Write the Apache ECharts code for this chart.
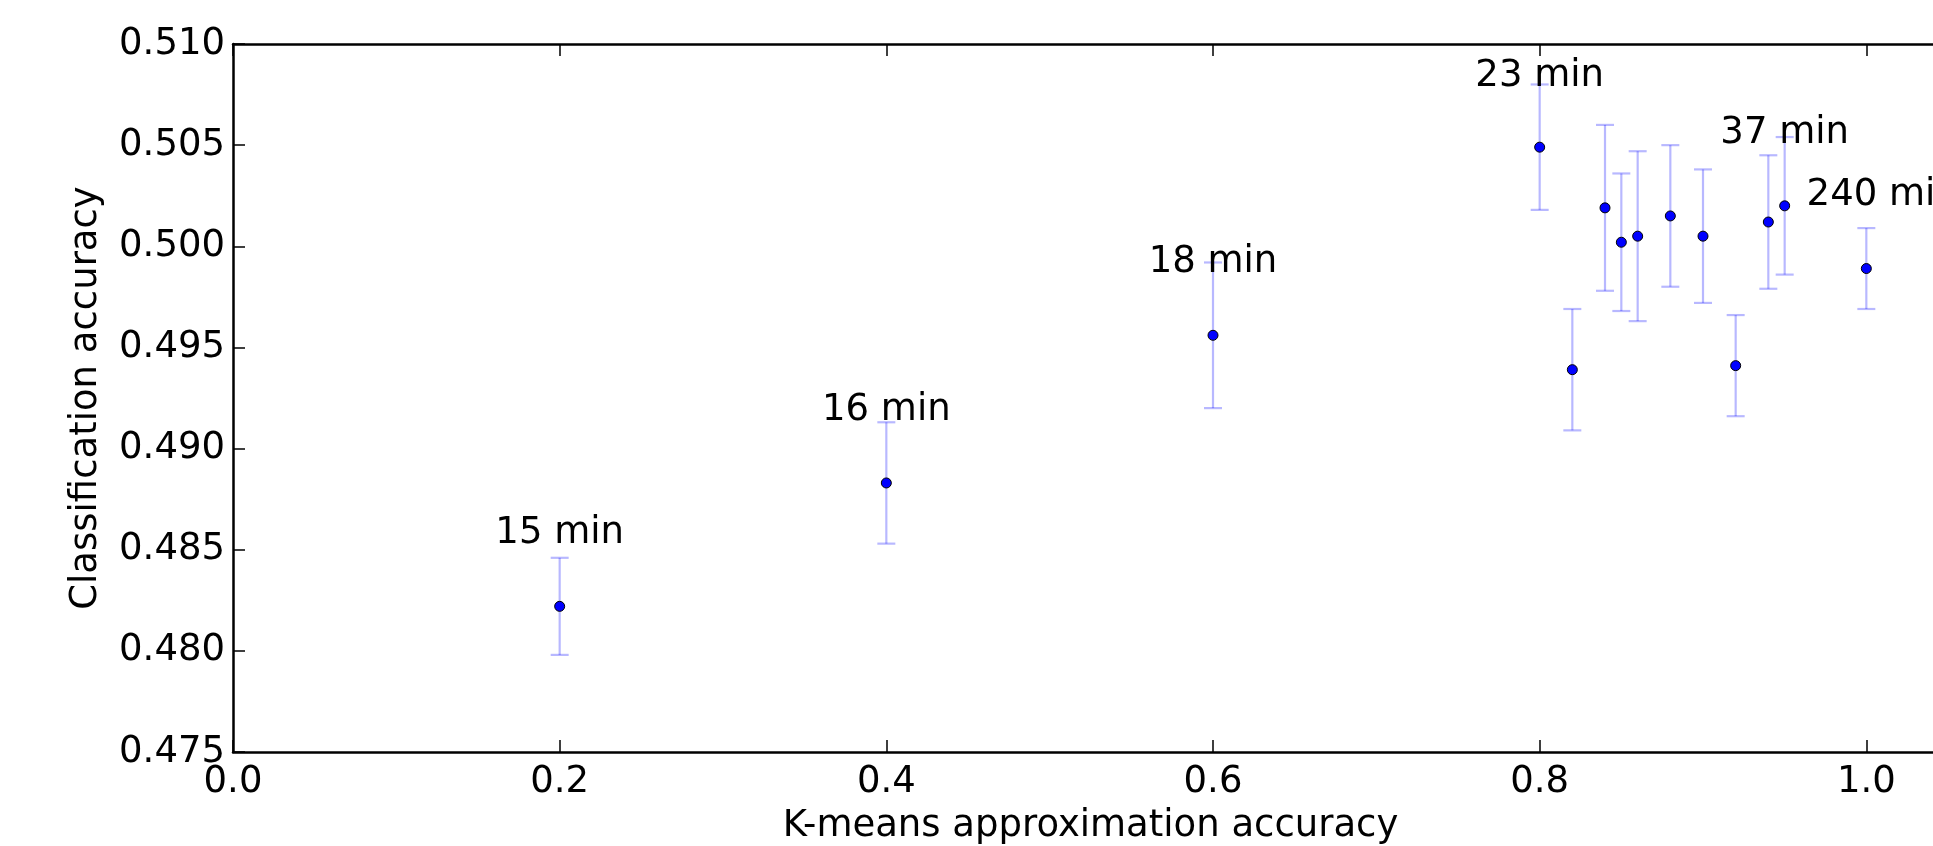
<!DOCTYPE html>
<html>
<head>
<meta charset="utf-8">
<title>Classification vs K-means approximation accuracy</title>
<script src="https://cdn.jsdelivr.net/npm/echarts@6/dist/echarts.min.js"></script>
<style>
  html, body { margin: 0; padding: 0; background: #fff; }
  #chart { width: 1933px; height: 846px; }
</style>
</head>
<body>
<div id="chart"></div>
<script>
// K-means approximation accuracy (x) and classification accuracy (y) with error
const approxAcc = [0.2, 0.4, 0.6, 0.8, 0.82, 0.84, 0.85, 0.86, 0.88, 0.9, 0.92, 0.94, 0.95, 1.0];
const classAcc = [0.4822, 0.4883, 0.4956, 0.5049, 0.4939, 0.5019, 0.5002, 0.5005, 0.5015, 0.5005, 0.4941, 0.5012, 0.5020, 0.4989];
const classErr = [0.0024, 0.0030, 0.0036, 0.0031, 0.0030, 0.0041, 0.0034, 0.0042, 0.0035, 0.0033, 0.0025, 0.0033, 0.0034, 0.0020];

// run-time annotations (text centre, data coordinates)
const annotX = [0.2, 0.4, 0.6, 0.8, 0.95, 1.01];
const annotY = [0.4858, 0.4919, 0.4992, 0.5084, 0.5056, 0.5025];
const annotText = ['15 min', '16 min', '18 min', '23 min', '37 min', '240 min'];

const FONT = 'DejaVu Sans';
const FONT_SIZE = 37;
const ERR_COLOR = 'rgba(0, 0, 255, 0.28)';

const chart = echarts.init(document.getElementById('chart'));

const axisLine = { show: true, onZero: false, lineStyle: { color: '#000', width: 2.5 } };
const axisTick = { show: true, inside: true, length: 12, lineStyle: { color: '#000', width: 1.5 } };

const option = {
  animation: false,
  backgroundColor: '#fff',
  grid: {
    left: 233,
    top: 44,
    width: 1715,
    height: 708,
    containLabel: false,
    outerBoundsMode: 'none',
    show: false
  },
  xAxis: [
    {
      type: 'value',
      position: 'bottom',
      min: 0,
      max: 1.05,
      interval: 0.2,
      axisLine: axisLine,
      axisTick: axisTick,
      splitLine: { show: false },
      axisLabel: {
        color: '#000',
        fontFamily: FONT,
        fontSize: FONT_SIZE,
        margin: 12,
        showMaxLabel: false,
        formatter: v => v.toFixed(1)
      },
      name: 'K-means approximation accuracy',
      nameLocation: 'middle',
      nameGap: 56,
      nameTextStyle: { color: '#000', fontFamily: FONT, fontSize: FONT_SIZE }
    },
    {
      type: 'value',
      position: 'top',
      min: 0,
      max: 1.05,
      interval: 0.2,
      axisLine: axisLine,
      axisTick: axisTick,
      splitLine: { show: false },
      axisLabel: { show: false }
    }
  ],
  yAxis: {
    type: 'value',
    min: 0.475,
    max: 0.510,
    interval: 0.005,
    axisLine: axisLine,
    axisTick: axisTick,
    splitLine: { show: false },
    axisLabel: {
      color: '#000',
      fontFamily: FONT,
      fontSize: FONT_SIZE,
      margin: 8,
      formatter: v => v.toFixed(3)
    },
    name: 'Classification accuracy',
    nameLocation: 'middle',
    nameRotate: 90,
    nameGap: 128,
    nameTextStyle: { color: '#000', fontFamily: FONT, fontSize: FONT_SIZE }
  },
  series: [
    {
      // error bars
      type: 'custom',
      xAxisIndex: 0,
      data: approxAcc.map((x, i) => [x, classAcc[i] - classErr[i], classAcc[i] + classErr[i]]),
      encode: { x: 0, y: [1, 2] },
      renderItem: function (params, api) {
        const x = api.value(0);
        const top = api.coord([x, api.value(2)]);
        const bot = api.coord([x, api.value(1)]);
        const cap = 9;
        const style = { stroke: ERR_COLOR, lineWidth: 2.2 };
        return {
          type: 'group',
          children: [
            { type: 'line', shape: { x1: top[0], y1: top[1], x2: bot[0], y2: bot[1] }, style: style },
            { type: 'line', shape: { x1: top[0] - cap, y1: top[1], x2: top[0] + cap, y2: top[1] }, style: style },
            { type: 'line', shape: { x1: bot[0] - cap, y1: bot[1], x2: bot[0] + cap, y2: bot[1] }, style: style }
          ]
        };
      },
      z: 2
    },
    {
      type: 'scatter',
      xAxisIndex: 0,
      data: approxAcc.map((x, i) => [x, classAcc[i]]),
      symbol: 'circle',
      symbolSize: 10,
      itemStyle: { color: '#0000ff', borderColor: '#000', borderWidth: 1, opacity: 1 },
      z: 3
    },
    {
      // text annotations
      type: 'scatter',
      xAxisIndex: 0,
      data: annotX.map((x, i) => [x, annotY[i]]),
      symbol: 'circle',
      symbolSize: 1,
      itemStyle: { color: 'rgba(0,0,0,0)', opacity: 1 },
      label: {
        show: true,
        position: 'inside',
        color: '#000',
        opacity: 1,
        fontFamily: FONT,
        fontSize: FONT_SIZE,
        formatter: p => annotText[p.dataIndex]
      },
      silent: true,
      z: 4
    }
  ]
};

chart.setOption(option);

window.addEventListener('resize', () => {
  chart.resize();
});
</script>
</body>
</html>
